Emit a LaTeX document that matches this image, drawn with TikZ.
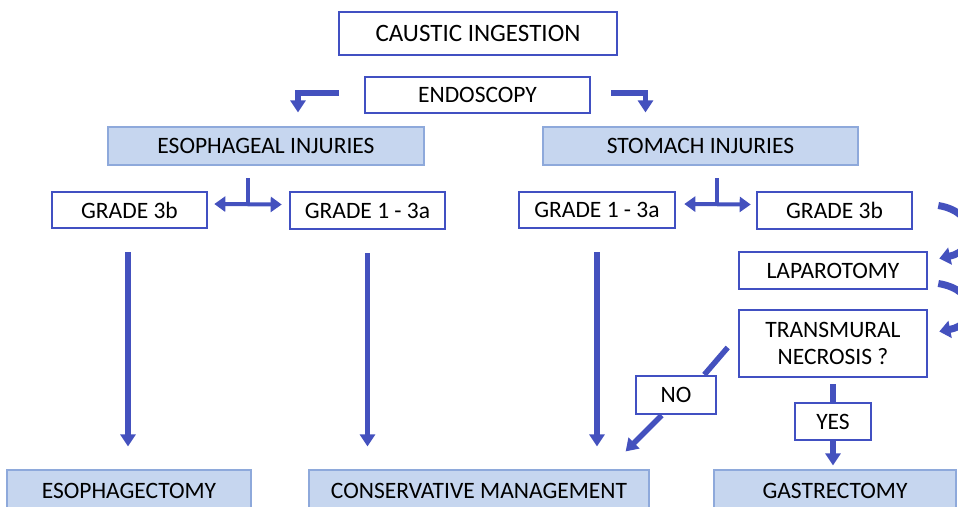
\documentclass[tikz,border=0pt]{standalone}
\usepackage{fontspec}
\setmainfont{Carlito}
\usetikzlibrary{positioning, calc, arrows.meta}

\definecolor{boxblue}{HTML}{4150C2}
\definecolor{fillblue}{HTML}{C6D6EF}
\definecolor{edgeblue}{HTML}{8EA9DB}
\definecolor{arrblue}{HTML}{4451BE}

\tikzset{
  whitebox/.style={draw=boxblue, line width=2.6pt, fill=white, inner sep=0pt, align=center, font=\fontsize{23.5}{27}\selectfont},
  bluebox/.style={draw=edgeblue, line width=1.2pt, fill=fillblue, inner sep=0pt, align=center, font=\fontsize{23.5}{27}\selectfont},
  arr/.style={draw=arrblue, line width=5.5pt, -{Triangle[width=15pt,length=12pt]}},
  twoarr/.style={draw=arrblue, line width=4pt, {Triangle[width=15pt,length=11pt]}-{Triangle[width=15pt,length=11pt]}},
  bar/.style={draw=arrblue, line width=4.5pt},
  bendarr/.style={draw=arrblue, line width=7pt, -{Triangle[width=17pt,length=11pt]}}
}

\begin{document}
\begin{tikzpicture}[x=1pt, y=-1pt]
  \useasboundingbox (0,0) rectangle (958,506);
  % top of the chart
  \node (ingest) [whitebox, minimum width=278pt, minimum height=43pt, font=\fontsize{25}{28}\selectfont] at (478,33.5) {CAUSTIC INGESTION};
  \node (endo) [whitebox, minimum width=225pt, minimum height=36pt] at (477.5,95) {ENDOSCOPY};
  \node (esoinj) [bluebox, minimum width=316pt, minimum height=38pt] at (266,146) {ESOPHAGEAL INJURIES};
  \node (stoinj) [bluebox, minimum width=315pt, minimum height=38pt] at (700.5,146) {STOMACH INJURIES};
  \draw [arr] ($(endo.west)+(-25,-2)$) -| ($(esoinj.north)+(32,-14)$);
  \draw [arr] ($(endo.east)+(20,-2)$) -| ($(stoinj.north)+(-55,-14)$);

  % grades
  \node (gtreL) [whitebox, minimum width=155pt, minimum height=36pt] at (129.5,210) {GRADE 3b};
  \node (goneL) [whitebox, minimum width=155pt, minimum height=37pt] at (367.5,210.5) {GRADE 1 - 3a};
  \node (goneR) [whitebox, minimum width=156pt, minimum height=36pt] at (597,210) {GRADE 1 - 3a};
  \node (gtreR) [whitebox, minimum width=155pt, minimum height=37pt] at (834.5,210.5) {GRADE 3b};
  \coordinate (tL) at (248,178);
  \coordinate (tR) at (717,178);
  \draw [bar] (tL) -- ($(tL |- goneL.west)+(0,-6)$);
  \draw [twoarr] ($(gtreL.east)+(6,-6)$) -- ($(goneL.west)+(-7,-6)$);
  \draw [bar] (tR) -- ($(tR |- goneR.east)+(0,-6)$);
  \draw [twoarr] ($(goneR.east)+(8,-6)$) -- ($(gtreR.west)+(-5,-6)$);

  % surgery branch
  \node (lap) [whitebox, minimum width=188pt, minimum height=37pt] at (833,270.5) {LAPAROTOMY};
  \node (trans) [whitebox, minimum width=188pt, minimum height=67pt] at (833,343.5) {TRANSMURAL\\NECROSIS ?};
  \draw [bendarr] ($(gtreR.east)+(25,-5)$) .. controls (978,212) and (978,250) .. ($(lap.east)+(11,-12)$);
  \draw [bendarr] ($(lap.east)+(10,13)$) .. controls (978,290) and (978,324) .. ($(trans.east)+(11,-12)$);

  % outcomes
  \node (esoph) [bluebox, minimum width=244pt, minimum height=42pt] at (129,491) {ESOPHAGECTOMY};
  \node (cons) [bluebox, minimum width=340pt, minimum height=42pt] at (479,491) {CONSERVATIVE MANAGEMENT};
  \node (gast) [bluebox, minimum width=242pt, minimum height=42pt] at (835,491) {GASTRECTOMY};
  \node (no) [whitebox, minimum width=80pt, minimum height=38pt] at (676,395) {NO};
  \node (yes) [whitebox, minimum width=76pt, minimum height=37pt] at (833,421.5) {YES};

  \draw [arr] ($(gtreL.south)+(-1.5,23)$) -- ($(gtreL.south |- esoph.north)+(-1.5,-23)$);
  \draw [arr] ($(goneL.south)+(0,23)$) -- ($(goneL.south |- cons.north)+(0,-23)$);
  \draw [arr] ($(goneR.south)+(0,23)$) -- ($(goneR.south |- cons.north)+(0,-23)$);
  \draw [bar, line width=5.5pt] ($(trans.west)+(-10,4)$) -- ($(no.north east)+(-13,0)$);
  \draw [arr] ($(no.south west)+(27,0)$) -- ($(cons.north east)+(-24,-18)$);
  \draw [bar, line width=5.5pt] ($(trans.south)+(0,6)$) -- (trans.south |- yes.north);
  \draw [arr] (yes.south) -- ($(gast.north)+(-2,-4)$);
\end{tikzpicture}
\end{document}
